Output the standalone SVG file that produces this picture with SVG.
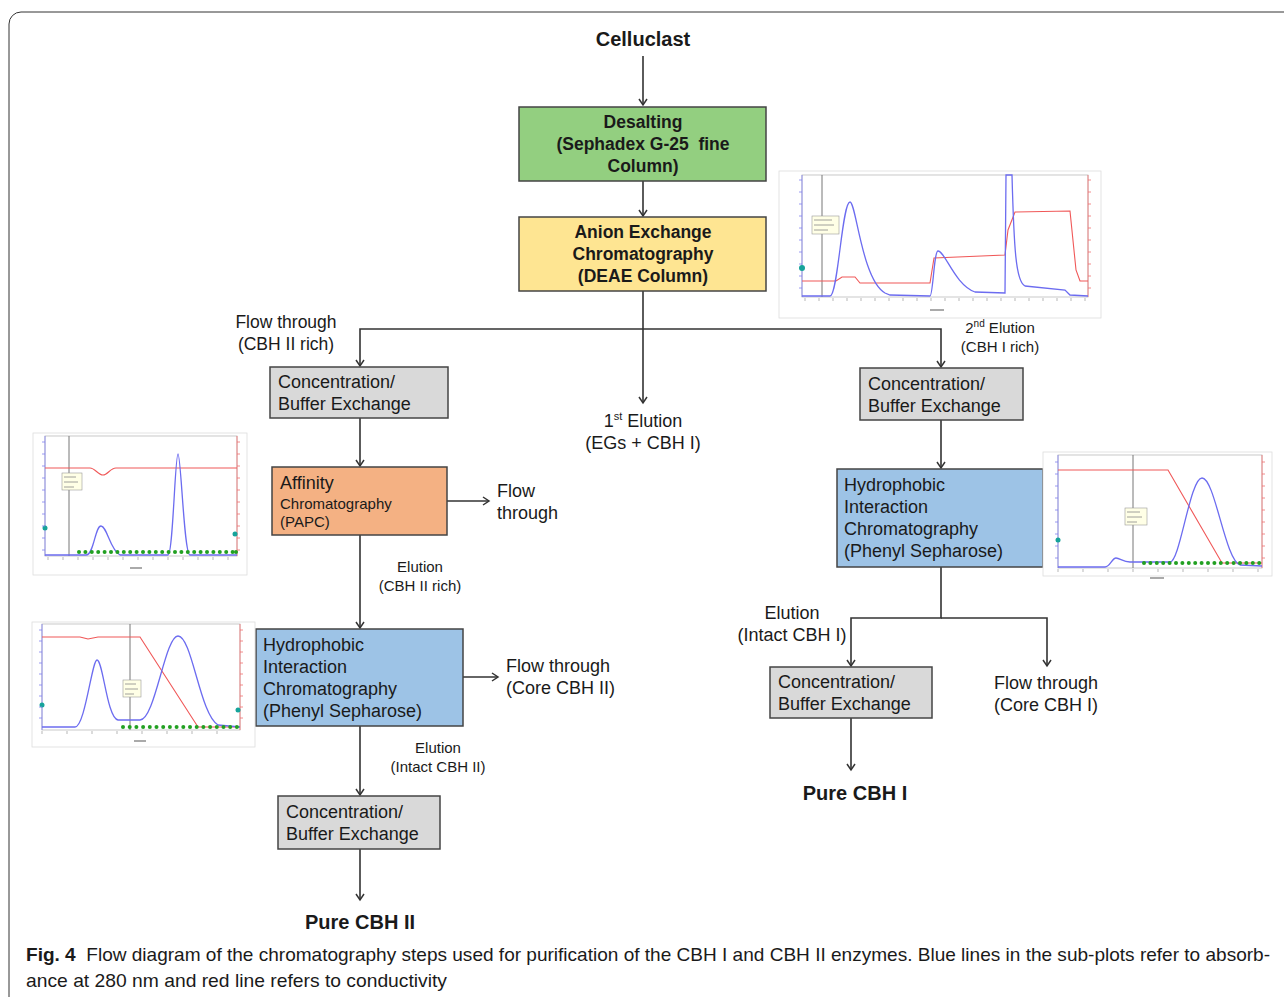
<svg xmlns="http://www.w3.org/2000/svg" width="1284" height="997" viewBox="0 0 1284 997">
<style>
.t{font-family:"Liberation Sans",Arial,sans-serif;fill:#1a1a1a}
.b{font-weight:bold}
.box{stroke:#444;stroke-width:1.5}
.con{stroke:#333;stroke-width:1.6;fill:none}
.pf{fill:#fff;stroke:#ddd;stroke-width:0.8}
.bl{stroke:#6c6cf0;stroke-width:1.3;fill:none}
.rd{stroke:#f05858;stroke-width:1.1;fill:none}
.vl{stroke:#777;stroke-width:1}
.ann{fill:#ffffe6;stroke:#999;stroke-width:0.6}
.gd{fill:#22a022}
.td{fill:#16a39a}
</style>
<defs>
<marker id="ah" markerWidth="10" markerHeight="10" refX="8" refY="5" orient="auto" markerUnits="userSpaceOnUse">
<path d="M2,1 L8,5 L2,9" fill="none" stroke="#333" stroke-width="1.5"/>
</marker>
</defs>
<rect x="9" y="12" width="1290" height="1000" rx="12" fill="#fff" stroke="#333" stroke-width="1"/>

<g id="connectors">
<line class="con" x1="643" y1="56" x2="643" y2="105" marker-end="url(#ah)"/>
<line class="con" x1="643" y1="181" x2="643" y2="216" marker-end="url(#ah)"/>
<polyline class="con" points="643,291 643,403" marker-end="url(#ah)"/>
<polyline class="con" points="643,329 360,329 360,366" marker-end="url(#ah)"/>
<polyline class="con" points="643,329 941,329 941,367" marker-end="url(#ah)"/>
<line class="con" x1="360" y1="418" x2="360" y2="466" marker-end="url(#ah)"/>
<line class="con" x1="447" y1="501" x2="489" y2="501" marker-end="url(#ah)"/>
<line class="con" x1="360" y1="535" x2="360" y2="628" marker-end="url(#ah)"/>
<line class="con" x1="463" y1="677" x2="498" y2="677" marker-end="url(#ah)"/>
<line class="con" x1="360" y1="726" x2="360" y2="795" marker-end="url(#ah)"/>
<line class="con" x1="360" y1="849" x2="360" y2="900" marker-end="url(#ah)"/>
<line class="con" x1="941" y1="420" x2="941" y2="468" marker-end="url(#ah)"/>
<polyline class="con" points="941,567 941,618 851,618 851,666" marker-end="url(#ah)"/>
<polyline class="con" points="941,618 1047,618 1047,666" marker-end="url(#ah)"/>
<line class="con" x1="851" y1="718" x2="851" y2="770" marker-end="url(#ah)"/>
</g>

<g id="celluclast"><text class="t b" x="643" y="46" font-size="20" text-anchor="middle">Celluclast</text></g>

<g id="desalting">
<rect class="box" x="519" y="107" width="247" height="74" fill="#93cf80"/>
<text class="t b" font-size="17.5" text-anchor="middle"><tspan x="643" y="128">Desalting</tspan><tspan x="643" y="150">(Sephadex G-25&#160; fine</tspan><tspan x="643" y="172">Column)</tspan></text>
</g>

<g id="anion">
<rect class="box" x="519" y="217" width="247" height="74" fill="#fee592"/>
<text class="t b" font-size="17.5" text-anchor="middle"><tspan x="643" y="238">Anion Exchange</tspan><tspan x="643" y="260">Chromatography</tspan><tspan x="643" y="282">(DEAE Column)</tspan></text>
</g>

<g id="lbl-ft1"><text class="t" font-size="17.5" text-anchor="middle"><tspan x="286" y="328">Flow through</tspan><tspan x="286" y="350">(CBH II rich)</tspan></text></g>
<g id="lbl-e1"><text class="t" font-size="18" text-anchor="middle" x="643" y="427">1<tspan font-size="11" dy="-7">st</tspan><tspan dy="7"> Elution</tspan></text>
<text class="t" font-size="18" text-anchor="middle" x="643" y="449">(EGs + CBH I)</text></g>
<g id="lbl-e2"><text class="t" font-size="15" text-anchor="middle" x="1000" y="333">2<tspan font-size="10" dy="-6">nd</tspan><tspan dy="6"> Elution</tspan></text>
<text class="t" font-size="15" text-anchor="middle" x="1000" y="352">(CBH I rich)</text></g>

<g id="conc1">
<rect class="box" x="270" y="367" width="178" height="51" fill="#d9d9d9"/>
<text class="t" font-size="18"><tspan x="278" y="388">Concentration/</tspan><tspan x="278" y="410">Buffer Exchange</tspan></text>
</g>

<g id="affinity">
<rect class="box" x="272" y="467" width="175" height="68" fill="#f4b183"/>
<text class="t" x="280" y="489" font-size="18">Affinity</text>
<text class="t" font-size="15"><tspan x="280" y="509">Chromatography</tspan><tspan x="280" y="527">(PAPC)</tspan></text>
</g>
<g id="lbl-ft2"><text class="t" font-size="18"><tspan x="497" y="497">Flow</tspan><tspan x="497" y="519">through</tspan></text></g>
<g id="lbl-e3"><text class="t" font-size="15" text-anchor="middle"><tspan x="420" y="572">Elution</tspan><tspan x="420" y="591">(CBH II rich)</tspan></text></g>

<g id="hic1">
<rect class="box" x="256" y="629" width="207" height="97" fill="#9dc3e6"/>
<text class="t" font-size="18"><tspan x="263" y="651">Hydrophobic</tspan><tspan x="263" y="673">Interaction</tspan><tspan x="263" y="695">Chromatography</tspan><tspan x="263" y="717">(Phenyl Sepharose)</tspan></text>
</g>
<g id="lbl-ft3"><text class="t" font-size="18"><tspan x="506" y="672">Flow through</tspan><tspan x="506" y="694">(Core CBH II)</tspan></text></g>
<g id="lbl-e4"><text class="t" font-size="15" text-anchor="middle"><tspan x="438" y="753">Elution</tspan><tspan x="438" y="772">(Intact CBH II)</tspan></text></g>

<g id="conc3">
<rect class="box" x="278" y="796" width="162" height="53" fill="#d9d9d9"/>
<text class="t" font-size="18"><tspan x="286" y="818">Concentration/</tspan><tspan x="286" y="840">Buffer Exchange</tspan></text>
</g>
<g id="pure2"><text class="t b" x="360" y="929" font-size="20" text-anchor="middle">Pure CBH II</text></g>

<g id="conc2">
<rect class="box" x="860" y="368" width="163" height="52" fill="#d9d9d9"/>
<text class="t" font-size="18"><tspan x="868" y="390">Concentration/</tspan><tspan x="868" y="412">Buffer Exchange</tspan></text>
</g>

<g id="hic2">
<rect class="box" x="837" y="469" width="206" height="98" fill="#9dc3e6"/>
<text class="t" font-size="18"><tspan x="844" y="491">Hydrophobic</tspan><tspan x="844" y="513">Interaction</tspan><tspan x="844" y="535">Chromatography</tspan><tspan x="844" y="557">(Phenyl Sepharose)</tspan></text>
</g>
<g id="lbl-e5"><text class="t" font-size="18" text-anchor="middle"><tspan x="792" y="619">Elution</tspan><tspan x="792" y="641">(Intact CBH I)</tspan></text></g>
<g id="conc4">
<rect class="box" x="770" y="667" width="162" height="51" fill="#d9d9d9"/>
<text class="t" font-size="18"><tspan x="778" y="688">Concentration/</tspan><tspan x="778" y="710">Buffer Exchange</tspan></text>
</g>
<g id="lbl-ft4"><text class="t" font-size="18"><tspan x="994" y="689">Flow through</tspan><tspan x="994" y="711">(Core CBH I)</tspan></text></g>
<g id="pure1"><text class="t b" x="855" y="800" font-size="20" text-anchor="middle">Pure CBH I</text></g>

<!-- chart: anion exchange -->
<g id="chart-anion">
<rect class="pf" x="779" y="171" width="322" height="147"/>
<rect x="802" y="175" width="286" height="122" fill="none" stroke="#bbb" stroke-width="0.8"/>
<line x1="802" y1="175" x2="802" y2="297" stroke="#8080f0" stroke-width="0.8"/>
<line x1="1088" y1="175" x2="1088" y2="297" stroke="#f07070" stroke-width="0.8"/>
<line class="vl" x1="822" y1="175" x2="822" y2="297"/>
<rect class="ann" x="812" y="216" width="27" height="18"/>
<path d="M814,220h18M814,225h20M814,230h14" stroke="#888" stroke-width="0.8"/>
<path class="rd" d="M802,281 L836,281 L842,277 L855,277 L860,283 L930,283 L934,258 L1005,255 L1008,230 L1015,212 L1070,211 L1076,270 L1080,281 L1088,281"/>
<path class="bl" d="M802,296 L830,296 C838,296 842,202 850,202 C856,202 862,280 885,293 L890,295 L930,296 C933,296 934,251 938,251 C945,251 955,285 975,292 L1005,293 L1006,175 L1012,175 C1014,250 1016,282 1025,286 L1065,290 L1070,295 L1088,296"/>
<circle class="td" cx="802" cy="268" r="3"/>
<path d="M805,298v3M819,298v3M833,298v3M847,298v3M861,298v3M875,298v3M889,298v3M903,298v3M917,298v3M931,298v3M945,298v3M959,298v3M973,298v3M987,298v3M1001,298v3M1015,298v3M1029,298v3M1043,298v3M1057,298v3M1071,298v3M1085,298v3" stroke="#999" stroke-width="0.7"/>
<path d="M930,310h14" stroke="#aaa" stroke-width="2"/>
<path d="M799,180h3M799,192h3M799,204h3M799,216h3M799,228h3M799,240h3M799,252h3M799,264h3M799,276h3M799,288h3" stroke="#8080f0" stroke-width="0.8"/>
<path d="M1088,180h3M1088,192h3M1088,204h3M1088,216h3M1088,228h3M1088,240h3M1088,252h3M1088,264h3M1088,276h3M1088,288h3" stroke="#f07070" stroke-width="0.8"/>
</g>

<!-- chart: affinity -->
<g id="chart-affinity">
<rect class="pf" x="33" y="433" width="214" height="142"/>
<rect x="45" y="436" width="192" height="120" fill="none" stroke="#bbb" stroke-width="0.8"/>
<line x1="45" y1="436" x2="45" y2="556" stroke="#8080f0" stroke-width="0.8"/>
<line x1="237" y1="436" x2="237" y2="556" stroke="#f07070" stroke-width="0.8"/>
<line class="vl" x1="69" y1="436" x2="69" y2="556"/>
<rect class="ann" x="62" y="473" width="20" height="17"/>
<path d="M64,477h12M64,482h14M64,487h10" stroke="#888" stroke-width="0.8"/>
<path class="rd" d="M45,468 L90,468 C95,468 98,475 103,475 C108,475 110,468 116,468 L237,468"/>
<path class="bl" d="M45,555 L86,555 C94,555 95,526 101,526 C107,526 110,550 120,555 L168,555 C173,555 175,454 178,454 C181,454 184,555 190,555 L237,555"/>
<g class="gd">
<circle cx="79" cy="552" r="2"/><circle cx="85.4" cy="552" r="2"/><circle cx="91.8" cy="552" r="2"/><circle cx="98.2" cy="552" r="2"/><circle cx="104.6" cy="552" r="2"/><circle cx="111" cy="552" r="2"/><circle cx="117.4" cy="552" r="2"/><circle cx="123.8" cy="552" r="2"/><circle cx="130.2" cy="552" r="2"/><circle cx="136.6" cy="552" r="2"/><circle cx="143" cy="552" r="2"/><circle cx="149.4" cy="552" r="2"/><circle cx="155.8" cy="552" r="2"/><circle cx="162.2" cy="552" r="2"/><circle cx="168.6" cy="552" r="2"/><circle cx="175" cy="552" r="2"/><circle cx="181.4" cy="552" r="2"/><circle cx="187.8" cy="552" r="2"/><circle cx="194.2" cy="552" r="2"/><circle cx="200.6" cy="552" r="2"/><circle cx="207" cy="552" r="2"/><circle cx="213.4" cy="552" r="2"/><circle cx="219.8" cy="552" r="2"/><circle cx="226.2" cy="552" r="2"/><circle cx="232.6" cy="552" r="2"/><circle cx="236" cy="552" r="2"/>
</g>
<circle class="td" cx="45" cy="528" r="2.5"/><circle class="td" cx="235" cy="534" r="2.5"/>
<path d="M48,557v3M63,557v3M78,557v3M93,557v3M108,557v3M123,557v3M138,557v3M153,557v3M168,557v3M183,557v3M198,557v3M213,557v3M228,557v3" stroke="#999" stroke-width="0.7"/>
<path d="M130,568h12" stroke="#aaa" stroke-width="2"/>
<path d="M42,442h3M42,454h3M42,466h3M42,478h3M42,490h3M42,502h3M42,514h3M42,526h3M42,538h3M42,550h3" stroke="#8080f0" stroke-width="0.8"/>
<path d="M237,442h3M237,454h3M237,466h3M237,478h3M237,490h3M237,502h3M237,514h3M237,526h3M237,538h3M237,550h3" stroke="#f07070" stroke-width="0.8"/>
</g>

<!-- chart: HIC left -->
<g id="chart-hic1">
<rect class="pf" x="32" y="622" width="223" height="125"/>
<rect x="42" y="624" width="198" height="106" fill="none" stroke="#bbb" stroke-width="0.8"/>
<line x1="42" y1="624" x2="42" y2="730" stroke="#8080f0" stroke-width="0.8"/>
<line x1="240" y1="624" x2="240" y2="730" stroke="#f07070" stroke-width="0.8"/>
<line class="vl" x1="130" y1="624" x2="130" y2="730"/>
<rect class="ann" x="123" y="680" width="18" height="17"/>
<path d="M125,684h11M125,689h13M125,694h9" stroke="#888" stroke-width="0.8"/>
<path class="rd" d="M42,637 L80,637 L88,639 L98,637 L140,637 L198,727 L240,727"/>
<path class="bl" d="M42,727 L75,727 C85,727 92,660 97,660 C103,660 107,718 118,720 L140,720 C155,720 165,636 178,636 C192,636 200,715 218,725 L240,727"/>
<g class="gd">
<circle cx="123" cy="727" r="2"/><circle cx="129.7" cy="727" r="2"/><circle cx="136.4" cy="727" r="2"/><circle cx="143.1" cy="727" r="2"/><circle cx="149.8" cy="727" r="2"/><circle cx="156.5" cy="727" r="2"/><circle cx="163.2" cy="727" r="2"/><circle cx="169.9" cy="727" r="2"/><circle cx="176.6" cy="727" r="2"/><circle cx="183.3" cy="727" r="2"/><circle cx="190" cy="727" r="2"/><circle cx="196.7" cy="727" r="2"/><circle cx="203.4" cy="727" r="2"/><circle cx="210.1" cy="727" r="2"/><circle cx="216.8" cy="727" r="2"/><circle cx="223.5" cy="727" r="2"/><circle cx="230.2" cy="727" r="2"/><circle cx="236.9" cy="727" r="2"/>
</g>
<circle class="td" cx="42" cy="705" r="2.5"/><circle class="td" cx="238" cy="710" r="2.5"/>
<path d="M42,731v3M67,731v3M92,731v3M117,731v3M142,731v3M167,731v3M192,731v3M217,731v3" stroke="#999" stroke-width="0.7"/>
<path d="M134,741h12" stroke="#aaa" stroke-width="2"/>
<path d="M39,630h3M39,641h3M39,652h3M39,663h3M39,674h3M39,685h3M39,696h3M39,707h3M39,718h3" stroke="#8080f0" stroke-width="0.8"/>
<path d="M240,630h3M240,641h3M240,652h3M240,663h3M240,674h3M240,685h3M240,696h3M240,707h3M240,718h3" stroke="#f07070" stroke-width="0.8"/>
</g>

<!-- chart: HIC right -->
<g id="chart-hic2">
<rect class="pf" x="1043" y="452" width="229" height="124"/>
<rect x="1058" y="455" width="204" height="113" fill="none" stroke="#bbb" stroke-width="0.8"/>
<line x1="1058" y1="455" x2="1058" y2="568" stroke="#8080f0" stroke-width="0.8"/>
<line x1="1262" y1="455" x2="1262" y2="568" stroke="#f07070" stroke-width="0.8"/>
<line class="vl" x1="1133" y1="455" x2="1133" y2="568"/>
<rect class="ann" x="1125" y="508" width="22" height="17"/>
<path d="M1127,512h13M1127,517h15M1127,522h10" stroke="#888" stroke-width="0.8"/>
<path class="rd" d="M1058,470 L1168,470 L1222,563 L1262,563"/>
<path class="bl" d="M1058,567 L1105,567 C1110,567 1112,558 1116,558 C1120,558 1123,562 1130,562 L1170,562 C1180,562 1190,478 1202,478 C1215,478 1225,560 1240,565 L1262,566"/>
<g class="gd">
<circle cx="1144" cy="563" r="2"/><circle cx="1150.4" cy="563" r="2"/><circle cx="1156.8" cy="563" r="2"/><circle cx="1163.2" cy="563" r="2"/><circle cx="1169.6" cy="563" r="2"/><circle cx="1176" cy="563" r="2"/><circle cx="1182.4" cy="563" r="2"/><circle cx="1188.8" cy="563" r="2"/><circle cx="1195.2" cy="563" r="2"/><circle cx="1201.6" cy="563" r="2"/><circle cx="1208" cy="563" r="2"/><circle cx="1214.4" cy="563" r="2"/><circle cx="1220.8" cy="563" r="2"/><circle cx="1227.2" cy="563" r="2"/><circle cx="1233.6" cy="563" r="2"/><circle cx="1240" cy="563" r="2"/><circle cx="1246.4" cy="563" r="2"/><circle cx="1252.8" cy="563" r="2"/><circle cx="1259.2" cy="563" r="2"/>
</g>
<circle class="td" cx="1058" cy="540" r="2.5"/>
<path d="M1058,569v3M1083,569v3M1108,569v3M1133,569v3M1158,569v3M1183,569v3M1208,569v3M1233,569v3M1258,569v3" stroke="#999" stroke-width="0.7"/>
<path d="M1150,578h14" stroke="#aaa" stroke-width="2"/>
<path d="M1055,462h3M1055,474h3M1055,486h3M1055,498h3M1055,510h3M1055,522h3M1055,534h3M1055,546h3M1055,558h3" stroke="#8080f0" stroke-width="0.8"/>
<path d="M1262,462h3M1262,474h3M1262,486h3M1262,498h3M1262,510h3M1262,522h3M1262,534h3M1262,546h3M1262,558h3" stroke="#f07070" stroke-width="0.8"/>
</g>

<g id="caption">
<text class="t" x="26" y="961" font-size="19" textLength="1244" lengthAdjust="spacingAndGlyphs"><tspan font-weight="bold">Fig. 4</tspan>&#160; Flow diagram of the chromatography steps used for purification of the CBH I and CBH II enzymes. Blue lines in the sub-plots refer to absorb-</text>
<text class="t" x="26" y="987" font-size="19" textLength="421" lengthAdjust="spacingAndGlyphs">ance at 280 nm and red line refers to conductivity</text>
</g>
</svg>
